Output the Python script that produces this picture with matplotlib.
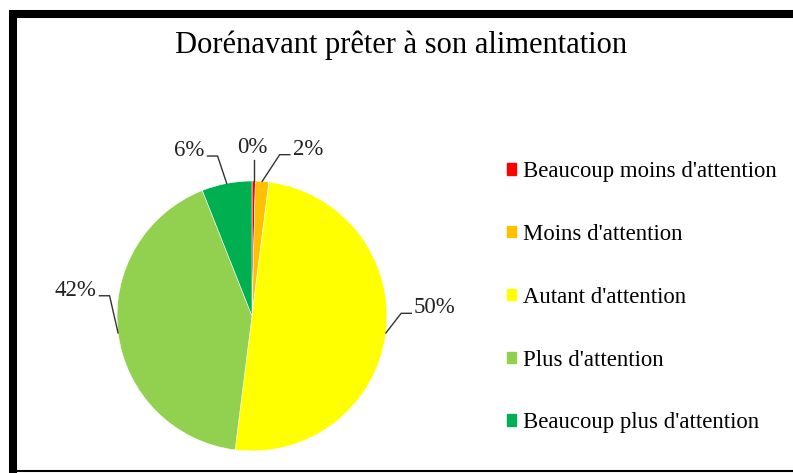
import matplotlib.pyplot as plt
from matplotlib.patches import Patch
from matplotlib.lines import Line2D
import numpy as np

plt.rcParams['font.family'] = ['Liberation Serif', 'DejaVu Serif']

title = "Dorénavant prêter à son alimentation"
categories = ["Beaucoup moins d'attention", "Moins d'attention", "Autant d'attention",
              "Plus d'attention", "Beaucoup plus d'attention"]
values = [0.4, 1.6, 50, 42, 6]
pct_labels = ["0%", "2%", "50%", "42%", "6%"]
colors = ["#FF0000", "#FFC000", "#FFFF00", "#92D050", "#00B050"]

# label anchor positions (pie radius = 1), side: +1 text right of line, -1 left, 0 above
label_pos = [(0.0, 1.25), (0.30, 1.235), (1.20, 0.06), (-1.15, 0.19), (-0.35, 1.225)]
label_side = [0, 1, 1, -1, -1]

fig = plt.figure(figsize=(7.93, 4.73), dpi=100)
ax = fig.add_axes([117 / 793, 1 - 451 / 473, 270 / 793, 270 / 473])

wedges, _ = ax.pie(values, colors=colors, startangle=90, counterclock=False,
                   radius=1, wedgeprops=dict(edgecolor='white', linewidth=0.4))
ax.set_xlim(-1, 1)
ax.set_ylim(-1, 1)
ax.set_aspect('equal')
ax.axis('off')

gap, stub = 0.02, 0.075
for w, txt, (tx, ty), side in zip(wedges, pct_labels, label_pos, label_side):
    ang = np.deg2rad((w.theta1 + w.theta2) / 2)
    ex, ey = np.cos(ang), np.sin(ang)
    if side == 0:
        ax.text(tx, ty, txt, ha='center', va='center', fontsize=16.5, color='#222222')
        ax.plot([ex, ex], [ey, ty - 0.095], color='#333333', lw=1, clip_on=False)
    else:
        ha = 'left' if side > 0 else 'right'
        ax.text(tx, ty, txt, ha=ha, va='center', fontsize=16.5, color='#222222')
        x1 = tx - side * gap
        x0 = x1 - side * stub
        ly = ty - 0.04
        ax.plot([ex, x0, x1], [ey, ly, ly], color='#333333', lw=1, clip_on=False)

fig.text(0.506, 0.905, title, ha='center', va='center', fontsize=22, color='black')

handles = [Patch(facecolor=c, edgecolor=c) for c in colors]
fig.legend(handles, categories, loc='upper left', bbox_to_anchor=(0.639, 0.66),
           frameon=False, fontsize=16.4, labelspacing=1.84, handlelength=0.42,
           handleheight=0.42, handletextpad=0.3, borderaxespad=0, borderpad=0)

# outer frame
fig.add_artist(Line2D([9 / 793, 1], [1 - 14 / 473] * 2, color='black', lw=5.8,
                      transform=fig.transFigure, solid_capstyle='butt'))
fig.add_artist(Line2D([13 / 793] * 2, [0, 1 - 10 / 473], color='black', lw=5.8,
                      transform=fig.transFigure, solid_capstyle='butt'))
fig.add_artist(Line2D([9 / 793, 1], [2 / 473] * 2, color='black', lw=1.5,
                      transform=fig.transFigure, solid_capstyle='butt'))

fig.savefig("out.png", dpi=100)
